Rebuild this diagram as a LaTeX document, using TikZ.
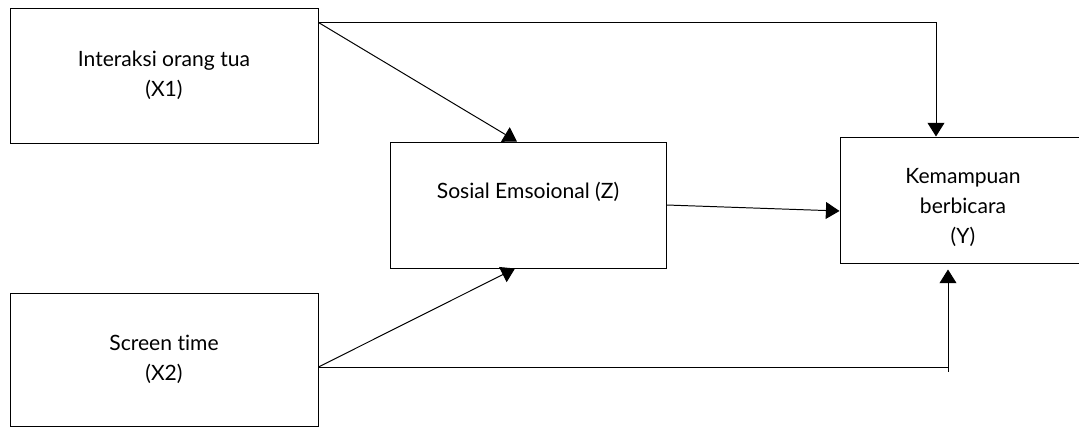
\documentclass[tikz,border=0pt]{standalone}
\usepackage{fontspec}
\setmainfont{Lato}[Ligatures=NoCommon]
\usetikzlibrary{arrows.meta, positioning, calc}

\begin{document}
\begin{tikzpicture}[
    varbox/.style={draw, line width=0.7pt, align=center, inner sep=0pt,
      font=\fontsize{15}{21.5}\selectfont},
    link/.style={line width=0.7pt, -{Triangle[length=0.34cm, width=0.42cm]}}
  ]
  \clip (0,0) rectangle (26.975,10.675);
  % variables
  \node[varbox, minimum width=7.7cm, minimum height=3.375cm] (x1) at (4.1,8.7875)
    {Interaksi orang tua\\(X1)};
  \node[varbox, minimum width=6.9cm, minimum height=3.15cm] (z) at (13.2,5.55)
    {Sosial Emsoional (Z)\\\mbox{}};
  \node[varbox, minimum width=6.15cm, minimum height=3.15cm] (y) at (24.075,5.675)
    {\mbox{}\\Kemampuan\\berbicara\\(Y)};
  \node[varbox, minimum width=7.7cm, minimum height=3.325cm] (x2) at (4.1,1.6875)
    {Screen time\\(X2)};
  % paths
  \coordinate (x1out) at ($(x1.north east)+(0,-0.375)$);
  \coordinate (x2out) at ($(x2.east)+(0,-0.1875)$);
  \coordinate (x2turn) at ($(x2out -| y.south)+(-0.375,0)$);
  \draw[link] (x1out) -- ($(z.north)+(-0.275,0)$);
  \draw[link] (x1out) -| ($(y.north)+(-0.675,0)$);
  \draw[link] (z.east) -- ($(y.west)+(0,-0.275)$);
  \draw[link] (x2out) -- ($(z.south)+(-0.325,0)$);
  \draw[line width=0.7pt] (x2out) -- (x2turn);
  \draw[link] ($(x2turn)+(0,-0.125)$) -- ($(y.south)+(-0.375,-0.15)$);
\end{tikzpicture}
\end{document}
